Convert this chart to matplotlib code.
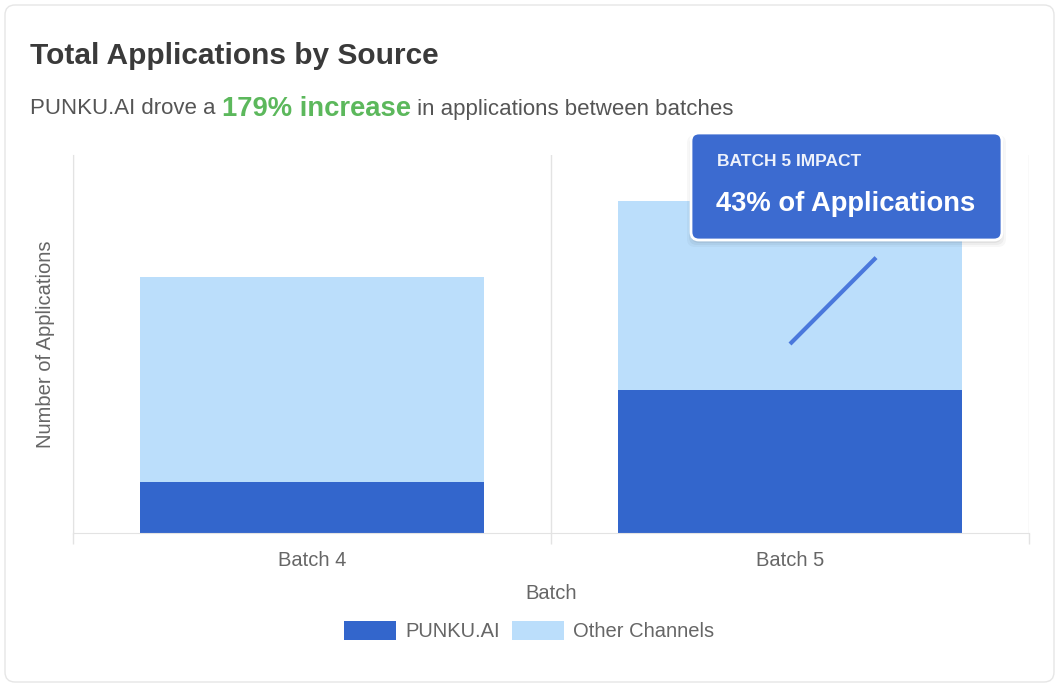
import matplotlib
matplotlib.use("Agg")
import matplotlib.pyplot as plt
from matplotlib.patches import FancyBboxPatch

# chart data
batches = ["Batch 4", "Batch 5"]
punku = [19, 53]
other = [76, 70]
y_max = 140

W, H = 1059, 687
BLUE = "#3366cc"
LIGHT = "#bbdefb"
GRID = "#e3e3e3"

plt.rcParams["font.family"] = ["Liberation Sans", "DejaVu Sans"]

fig = plt.figure(figsize=(W / 100, H / 100), dpi=100)
fig.patch.set_facecolor("white")

# card background, pixel coords
bg = fig.add_axes([0, 0, 1, 1], zorder=0)
bg.set_xlim(0, W)
bg.set_ylim(H, 0)
bg.axis("off")
bg.add_patch(FancyBboxPatch((5, 5), W - 10, H - 10,
                            boxstyle="round,pad=0,rounding_size=10",
                            facecolor="white", edgecolor="#e6e6e6", linewidth=1))


def px(x, y):
    return x / W, 1 - y / H


# title and subtitle
fig.text(*px(30, 56), "Total Applications by Source", fontsize=21.5, fontweight="bold",
         color="#3a3a3a", va="center", ha="left")

renderer = fig.canvas.get_renderer()
x0 = 30
parts = [("PUNKU.AI drove a ", 16, "normal", "#555555"),
         ("179% increase", 19.7, "bold", "#5cb85c"),
         (" in applications between batches", 16, "normal", "#555555")]
for txt, size, weight, color in parts:
    t = fig.text(*px(x0, 109), txt, fontsize=size, fontweight=weight, color=color,
                 va="center", ha="left")
    x0 += t.get_window_extent(renderer).width

# main axes
ax = fig.add_axes([73 / W, 1 - 533 / H, (1029 - 73) / W, (533 - 155) / H], zorder=1)
ax.set_facecolor("none")
xs = range(len(batches))
ax.bar(xs, punku, width=0.72, color=BLUE, label="PUNKU.AI", zorder=2)
ax.bar(xs, other, width=0.72, bottom=punku, color=LIGHT, label="Other Channels", zorder=2)

ax.set_xlim(-0.5, len(batches) - 0.5)
ax.set_ylim(0, y_max)
ax.set_yticks([])
ax.set_xticks(list(xs))
ax.set_xticklabels(batches, fontsize=14.5, color="#666666")
ax.tick_params(axis="x", which="major", length=0, pad=13)
ax.set_xticks([-0.5, 0.5, 1.5], minor=True)
ax.tick_params(axis="x", which="minor", length=8, color=GRID, width=1)
ax.grid(axis="x", which="minor", color=GRID, linewidth=1, zorder=0)
for s in ["top", "right"]:
    ax.spines[s].set_visible(False)
ax.spines["left"].set_color(GRID)
ax.spines["bottom"].set_color(GRID)

ax.set_xlabel("Batch", fontsize=14.5, color="#666666", labelpad=10)
ax.set_ylabel("Number of Applications", fontsize=14.5, color="#666666", labelpad=13)

# connector line from batch 5 bar to callout
ax.plot([1, 1.18], [70, 102], color="#4a78dc", linewidth=3, solid_capstyle="butt", zorder=3)

leg = fig.legend(loc="center", bbox_to_anchor=px(529, 631), ncol=2, frameon=False,
                 fontsize=14.5, handlelength=2.6, handleheight=1.05, columnspacing=0.6,
                 handletextpad=0.45)
for txt in leg.get_texts():
    txt.set_color("#666666")

# callout box
top = fig.add_axes([0, 0, 1, 1], zorder=5)
top.set_xlim(0, W)
top.set_ylim(H, 0)
top.axis("off")
for i, a in enumerate([0.05, 0.04, 0.03]):
    top.add_patch(FancyBboxPatch((691 - i * 2, 135 - i + 2), 311 + i * 4, 106 + i * 3,
                                 boxstyle="round,pad=0,rounding_size=8",
                                 facecolor="black", alpha=a, edgecolor="none"))
top.add_patch(FancyBboxPatch((691, 133), 311, 107,
                             boxstyle="round,pad=0,rounding_size=8",
                             facecolor="#3c6bd0", edgecolor="white", linewidth=2))
top.text(717, 162, "BATCH 5 IMPACT", fontsize=12.5, fontweight="bold", color="#eef2fb",
         va="center", ha="left")
top.text(716, 204, "43% of Applications", fontsize=19.7, fontweight="bold", color="white",
         va="center", ha="left")

fig.savefig("out.png", dpi=100)
